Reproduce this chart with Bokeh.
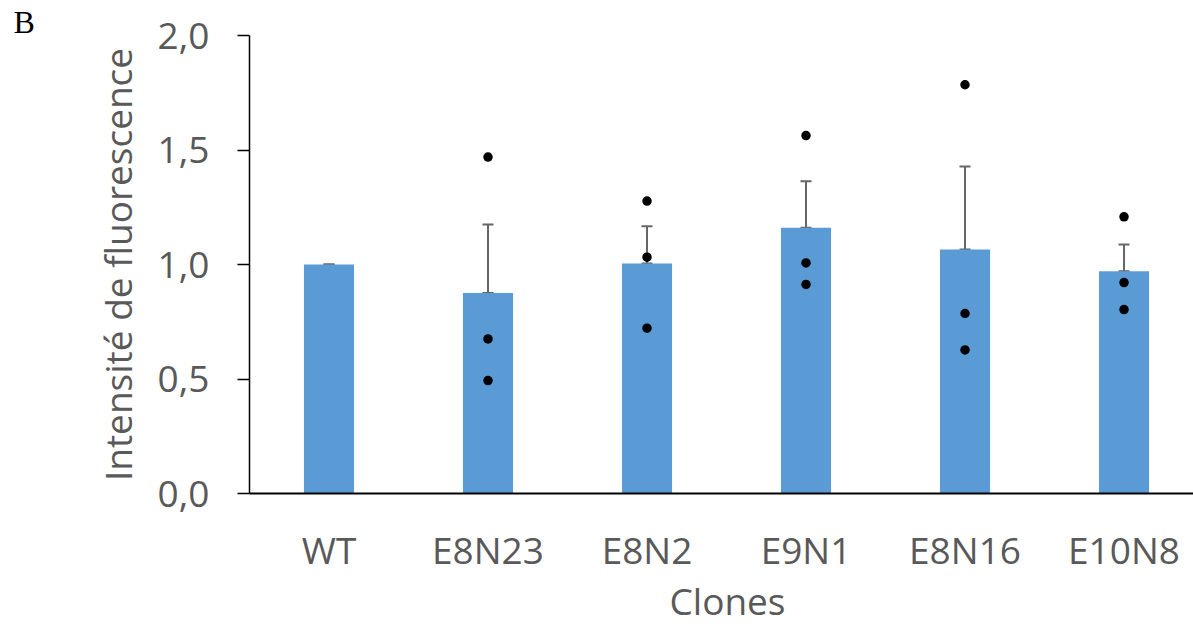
import numpy as np
from bokeh.plotting import figure
from bokeh.models import (Range1d, FixedTicker, CustomJSTickFormatter, ColumnDataSource,
                          Whisker, TeeHead, Title)
from bokeh.embed import file_html
from bokeh.resources import INLINE

# ---- data ----
categories = ["WT", "E8N23", "E8N2", "E9N1", "E8N16", "E10N8"]
means = [1.00, 0.876, 1.004, 1.160, 1.066, 0.971]
sem = [0.0, 0.299, 0.163, 0.204, 0.362, 0.116]
points_E8N23 = [1.469, 0.675, 0.493]
points_E8N2 = [1.277, 1.032, 0.722]
points_E9N1 = [1.563, 1.007, 0.913]
points_E8N16 = [1.785, 0.786, 0.627]
points_E10N8 = [1.208, 0.921, 0.803]
y_ticks = [0.0, 0.5, 1.0, 1.5, 2.0]

points = {"E8N23": points_E8N23, "E8N2": points_E8N2, "E9N1": points_E9N1,
          "E8N16": points_E8N16, "E10N8": points_E10N8}

FONT = "Open Sans"
GREY = "#595959"

xpos = [i + 0.5 for i in range(len(categories))]

p = figure(width=1193, height=626, output_backend="svg", toolbar_location=None,
           x_range=Range1d(0, 5.937), y_range=Range1d(0, 2.0),
           min_border_left=249, min_border_right=0, min_border_top=35, min_border_bottom=133)
p.outline_line_color = None
p.xgrid.visible = False
p.ygrid.visible = False
p.background_fill_color = "white"
p.border_fill_color = "white"

# panel label "B"
p.title.text = "B"
p.title.text_font = "Liberation Serif"
p.title.text_font_size = "32px"
p.title.text_font_style = "normal"
p.title.text_color = "black"
p.title.align = "left"
p.title.vertical_align = "top"
p.title.offset = -236
p.title.standoff = -12

src = ColumnDataSource(dict(x=xpos, top=means,
                            upper=[m + s for m, s in zip(means, sem)],
                            lower=means))
p.vbar(x="x", top="top", bottom=0, width=0.315, source=src,
       fill_color="#5B9BD5", line_color=None)

w = Whisker(base="x", upper="upper", lower="lower", source=src,
            line_color="#666666", line_width=2,
            upper_head=TeeHead(size=11, line_color="#666666", line_width=2),
            lower_head=TeeHead(size=11, line_color="#666666", line_width=2))
p.add_layout(w)

px, py = [], []
for i, c in enumerate(categories):
    for v in points.get(c, []):
        px.append(xpos[i])
        py.append(v)
p.scatter(px, py, size=9.5, fill_color="black", line_color=None)

# y axis
ya = p.yaxis[0]
ya.ticker = FixedTicker(ticks=y_ticks)
ya.formatter = CustomJSTickFormatter(code="return tick.toFixed(1).replace('.', ',');")
ya.axis_line_color = "black"
ya.axis_line_width = 1.5
ya.major_tick_line_color = "black"
ya.major_tick_line_width = 1.5
ya.major_tick_out = 12
ya.major_tick_in = 0
ya.minor_tick_line_color = None
ya.major_label_text_font = FONT
ya.major_label_text_font_size = "37px"
ya.major_label_text_color = GREY
ya.major_label_standoff = 28
ya.axis_label = "Intensité de fluorescence"
ya.axis_label_text_font = FONT
ya.axis_label_text_font_size = "37px"
ya.axis_label_text_font_style = "normal"
ya.axis_label_text_color = GREY
ya.axis_label_standoff = 12

# x axis
xa = p.xaxis[0]
xa.ticker = FixedTicker(ticks=xpos)
xa.formatter = CustomJSTickFormatter(args=dict(labels=categories),
                                     code="return labels[Math.round(tick - 0.5)];")
xa.axis_line_color = "black"
xa.axis_line_width = 2
xa.major_tick_line_color = None
xa.major_tick_out = 0
xa.major_tick_in = 0
xa.minor_tick_line_color = None
xa.major_label_text_font = FONT
xa.major_label_text_font_size = "37px"
xa.major_label_text_color = GREY
xa.major_label_standoff = 30

# small empty spacer between tick labels and the axis title
spacer = Title(text=" ", text_font=FONT, text_font_size="37px", standoff=-48)
p.add_layout(spacer, "below")

x_title = Title(text="Clones", text_font=FONT, text_font_size="37px",
                text_font_style="normal", text_color=GREY,
                align="left", vertical_align="top", offset=420, standoff=-15)
p.add_layout(x_title, "below")

open("out.html", "w").write(file_html(p, INLINE))
